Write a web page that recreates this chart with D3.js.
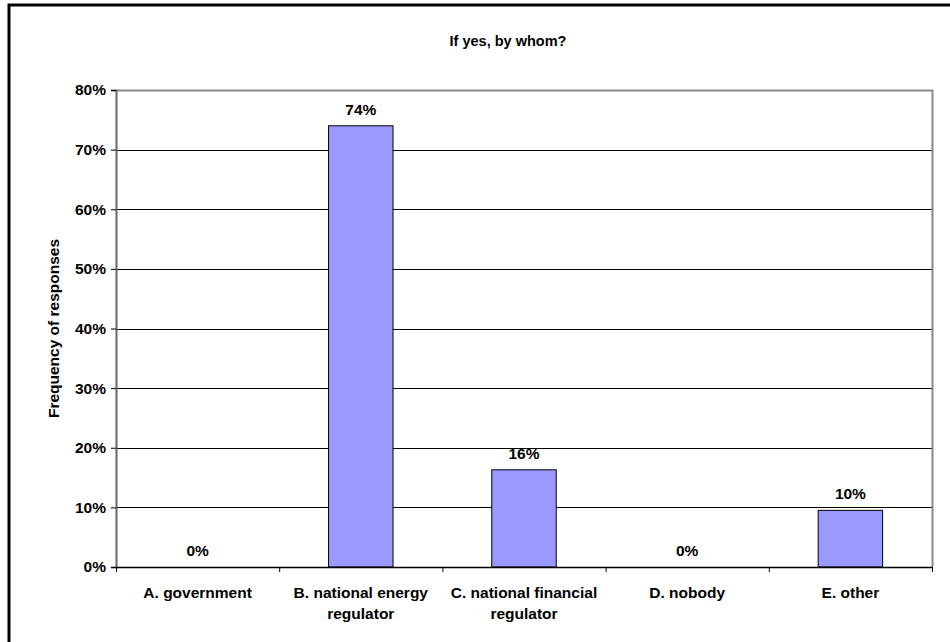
<!DOCTYPE html>
<html>
<head>
<meta charset="utf-8">
<script src="https://cdn.jsdelivr.net/npm/d3@7/dist/d3.min.js"></script>
<style>
  html, body { margin: 0; padding: 0; background: #fff; }
  svg { display: block; }
  text { font-family: "Liberation Sans", Arial, sans-serif; font-weight: bold; fill: #000; }
</style>
</head>
<body>
<script>
const title = "If yes, by whom?";
const yAxisTitle = "Frequency of responses";
const categories = [
  ["A. government"],
  ["B. national energy", "regulator"],
  ["C. national financial", "regulator"],
  ["D. nobody"],
  ["E. other"]
];
const values = [0, 74, 16.3, 0, 9.5];
const valueLabels = ["0%", "74%", "16%", "0%", "10%"];
const yTicks = [0, 10, 20, 30, 40, 50, 60, 70, 80];

const W = 950, H = 642;
const margin = { left: 116, top: 90, right: 950 - 932, bottom: 642 - 567 };
const iw = W - margin.left - margin.right;
const ih = H - margin.top - margin.bottom;
const FS = 15.5;

const svg = d3.select("body").append("svg").attr("width", W).attr("height", H);

// outer frame
svg.append("rect").attr("x", 9).attr("y", 5).attr("width", W + 10).attr("height", H + 10)
  .attr("fill", "#fff").attr("stroke", "#000").attr("stroke-width", 3);

const g = svg.append("g").attr("transform", `translate(${margin.left},${margin.top})`);

const x = d3.scaleBand().domain(d3.range(categories.length)).range([0, iw]).paddingInner(0).paddingOuter(0);
const y = d3.scaleLinear().domain([0, 80]).range([ih, 0]);

// gridlines
g.append("g").selectAll("line").data(yTicks.filter(d => d > 0 && d < 80)).join("line")
  .attr("x1", 0).attr("x2", iw).attr("y1", d => Math.round(y(d)) + 0.5).attr("y2", d => Math.round(y(d)) + 0.5)
  .attr("stroke", "#000").attr("stroke-width", 1);

// plot frame (top and right gray)
g.append("path").attr("d", `M0.5,0.5H${iw + 0.5}V${ih}`).attr("fill", "none").attr("stroke", "#888").attr("stroke-width", 2);

// bars
const bw = x.bandwidth() * 0.395;
g.append("g").selectAll("rect").data(values).join("rect")
  .attr("x", (d, i) => x(i) + (x.bandwidth() - bw) / 2)
  .attr("y", d => y(d))
  .attr("width", bw)
  .attr("height", d => ih - y(d))
  .attr("fill", "#9999FF")
  .attr("stroke", "#000")
  .attr("stroke-width", 1)
  .style("display", d => d > 0 ? null : "none");

// value labels
g.append("g").selectAll("text").data(values).join("text")
  .attr("x", (d, i) => x(i) + x.bandwidth() / 2)
  .attr("y", d => y(d) - 11)
  .attr("text-anchor", "middle")
  .attr("font-size", FS)
  .text((d, i) => valueLabels[i]);

// y axis
const yAxis = d3.axisLeft(y).tickValues(yTicks).tickFormat(d => d + "%").tickSize(5).tickPadding(5);
const ya = g.append("g").call(yAxis);
ya.select(".domain").attr("stroke", "#666").attr("stroke-width", 2);
ya.selectAll(".tick line").attr("stroke", "#000");
ya.selectAll(".tick text").attr("font-size", FS).attr("font-family", "Liberation Sans, Arial, sans-serif").attr("font-weight", "bold").attr("fill", "#000");

// x axis
const xLin = d3.scaleLinear().domain([0, categories.length]).range([0, iw]);
const xAxis = d3.axisBottom(xLin).tickValues(d3.range(categories.length + 1)).tickFormat("").tickSize(5).tickSizeOuter(0);
const xa = g.append("g").attr("transform", `translate(0,${ih})`).call(xAxis);
xa.select(".domain").attr("stroke", "#000").attr("stroke-width", 1.5);
xa.selectAll(".tick line").attr("stroke", "#000");

// category labels
const cl = g.append("g").selectAll("text").data(categories).join("text")
  .attr("x", (d, i) => x(i) + x.bandwidth() / 2)
  .attr("y", ih + 31)
  .attr("text-anchor", "middle")
  .attr("font-size", FS);
cl.each(function(lines) {
  const t = d3.select(this);
  lines.forEach((l, k) => {
    t.append("tspan").attr("x", t.attr("x")).attr("dy", k === 0 ? 0 : 21).text(l);
  });
});

// title
svg.append("text").attr("x", 508).attr("y", 46)
  .attr("text-anchor", "middle").attr("font-size", 14.5).text(title);

// y title
svg.append("text").attr("transform", `translate(59,${margin.top + ih / 2}) rotate(-90)`)
  .attr("text-anchor", "middle").attr("font-size", 15.5).text(yAxisTitle);
</script>
</body>
</html>
